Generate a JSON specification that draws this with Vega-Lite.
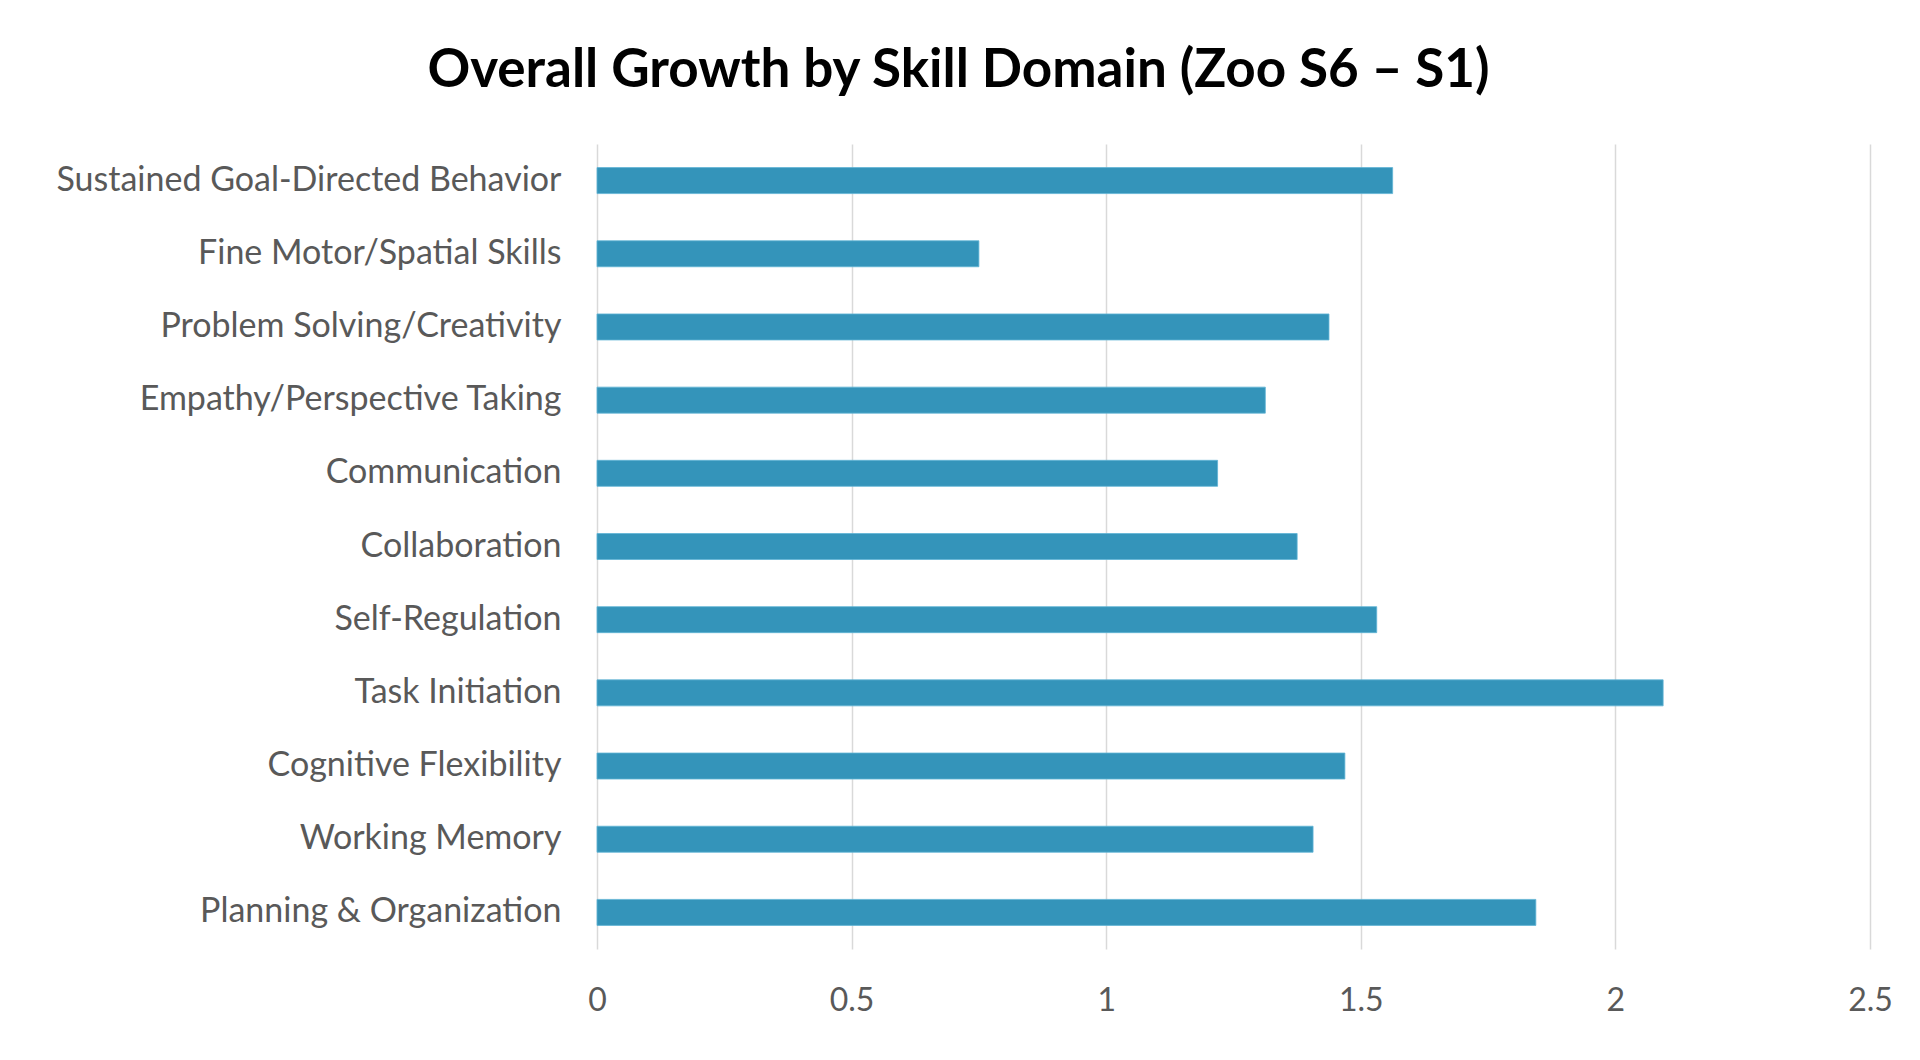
{
  "$schema": "https://vega.github.io/schema/vega-lite/v6.json",
  "width": 1273,
  "height": 805,
  "autosize": {"type": "none"},
  "padding": {"left": 597, "top": 144, "right": 50, "bottom": 111},
  "background": "white",
  "title": {
    "text": "Overall Growth by Skill Domain (Zoo S6 – S1)",
    "anchor": "middle",
    "dx": -275,
    "font": "Lato",
    "fontSize": 53,
    "fontWeight": "bold",
    "color": "#000000",
    "baseline": "alphabetic",
    "offset": 4
  },
  "data": {
    "values": [
      {"domain": "Sustained Goal-Directed Behavior", "growth": 1.5625},
      {"domain": "Fine Motor/Spatial Skills", "growth": 0.75},
      {"domain": "Problem Solving/Creativity", "growth": 1.4375},
      {"domain": "Empathy/Perspective Taking", "growth": 1.3125},
      {"domain": "Communication", "growth": 1.21875},
      {"domain": "Collaboration", "growth": 1.375},
      {"domain": "Self-Regulation", "growth": 1.53125},
      {"domain": "Task Initiation", "growth": 2.09375},
      {"domain": "Cognitive Flexibility", "growth": 1.46875},
      {"domain": "Working Memory", "growth": 1.40625},
      {"domain": "Planning & Organization", "growth": 1.84375}
    ]
  },
  "mark": {"type": "bar", "size": 26, "color": "#3494BA", "stroke": "#5fb4d6", "strokeWidth": 0.8},
  "encoding": {
    "y": {
      "field": "domain",
      "type": "nominal",
      "sort": null,
      "scale": {"paddingInner": 0, "paddingOuter": 0},
      "axis": {
        "title": null,
        "domain": false,
        "ticks": false,
        "labelFont": "Lato",
        "labelFontSize": 34,
        "labelColor": "#595959",
        "labelPadding": 36,
        "labelLimit": 700
      }
    },
    "x": {
      "field": "growth",
      "type": "quantitative",
      "scale": {"domain": [0, 2.5], "nice": false},
      "axis": {
        "title": null,
        "values": [0, 0.5, 1, 1.5, 2, 2.5],
        "format": "~g",
        "labelFlush": false,
        "domain": false,
        "ticks": false,
        "grid": true,
        "gridColor": "#d9d9d9",
        "gridWidth": 1.5,
        "labelFont": "Lato",
        "labelFontSize": 32,
        "labelColor": "#595959",
        "labelPadding": 36,
        "labelBaseline": "top"
      }
    }
  },
  "config": {
    "view": {"stroke": null}
  }
}
